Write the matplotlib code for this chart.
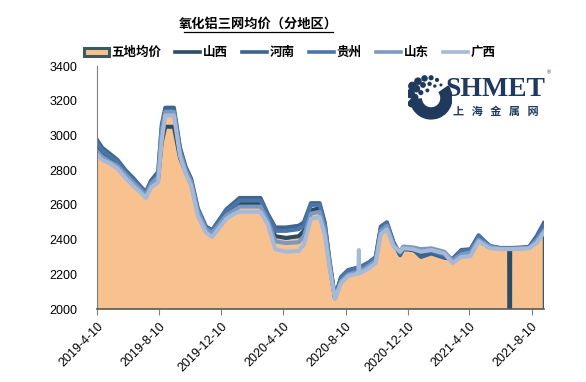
import numpy as np
import pandas as pd
import matplotlib
matplotlib.use("Agg")
import matplotlib.pyplot as plt
from matplotlib.patches import Patch, Wedge
from matplotlib.lines import Line2D

plt.rcParams["font.family"] = ["Liberation Sans", "Noto Sans CJK SC"]

dates = [
    "2019-04-10", "2019-04-20", "2019-05-05", "2019-05-20", "2019-06-05", "2019-06-20",
    "2019-07-05", "2019-07-15", "2019-07-25", "2019-08-08", "2019-08-15", "2019-08-22",
    "2019-09-08", "2019-09-20", "2019-10-01", "2019-10-12", "2019-10-25", "2019-11-10",
    "2019-11-22", "2019-12-05", "2019-12-20", "2020-01-05", "2020-01-15", "2020-02-25",
    "2020-03-10", "2020-03-25", "2020-04-15", "2020-05-10", "2020-05-20", "2020-06-03",
    "2020-06-20", "2020-06-30", "2020-07-10", "2020-07-20", "2020-08-01", "2020-08-15",
    "2020-09-04", "2020-09-05", "2020-09-06", "2020-09-25", "2020-10-08", "2020-10-18",
    "2020-10-30", "2020-11-12", "2020-11-25", "2020-12-01", "2020-12-20", "2021-01-05",
    "2021-01-25", "2021-02-20", "2021-03-08", "2021-03-25", "2021-04-12", "2021-04-28",
    "2021-05-20", "2021-06-10", "2021-06-27", "2021-06-28", "2021-06-29", "2021-07-20",
    "2021-08-05", "2021-08-20", "2021-09-03",
]

avg5 = [2930, 2895, 2865, 2835, 2780, 2735, 2690, 2660, 2720, 2760, 3010, 3120,
        3120, 2900, 2800, 2730, 2560, 2460, 2440, 2490, 2550, 2585, 2605, 2605,
        2520, 2420, 2405, 2415, 2445, 2565, 2575, 2470, 2250, 2065, 2170, 2210,
        2225, 2225, 2225, 2255, 2285, 2455, 2485, 2375, 2320, 2350, 2345, 2325,
        2335, 2310, 2280, 2320, 2330, 2410, 2360, 2350, 2350, 2350, 2350, 2352,
        2355, 2400, 2460]
shanxi = [2930, 2890, 2860, 2830, 2780, 2735, 2690, 2660, 2710, 2750, 2960, 3050,
          3050, 2870, 2790, 2720, 2555, 2455, 2440, 2490, 2550, 2590, 2610, 2610,
          2510, 2420, 2410, 2420, 2450, 2570, 2580, 2470, 2250, 2065, 2175, 2215,
          2230, 2230, 2230, 2260, 2290, 2460, 2490, 2380, 2315, 2345, 2340, 2320,
          2330, 2300, 2285, 2330, 2340, 2415, 2355, 2350, 2350, 0, 2350, 2352,
          2355, 2405, 2470]
henan = [2975, 2930, 2895, 2860, 2800, 2755, 2705, 2675, 2740, 2790, 3060, 3160,
         3160, 2930, 2820, 2750, 2580, 2475, 2455, 2510, 2575, 2615, 2640, 2640,
         2550, 2470, 2470, 2480, 2500, 2610, 2610, 2500, 2270, 2070, 2185, 2225,
         2240, 2240, 2240, 2270, 2300, 2475, 2500, 2385, 2310, 2350, 2345, 2300,
         2320, 2295, 2290, 2340, 2345, 2425, 2360, 2352, 2352, 2352, 2352, 2354,
         2358, 2420, 2495]
guizhou = [2955, 2915, 2880, 2850, 2790, 2745, 2700, 2670, 2730, 2770, 3040, 3140,
           3140, 2920, 2810, 2740, 2570, 2470, 2450, 2500, 2565, 2600, 2625, 2625,
           2540, 2450, 2450, 2460, 2480, 2600, 2600, 2490, 2260, 2065, 2180, 2220,
           2235, 2235, 2235, 2265, 2295, 2465, 2495, 2380, 2320, 2355, 2350, 2330,
           2335, 2310, 2285, 2335, 2340, 2420, 2365, 2350, 2350, 2350, 2350, 2352,
           2356, 2410, 2480]
shandong = [2910, 2880, 2850, 2825, 2775, 2730, 2685, 2655, 2720, 2760, 3020, 3135,
            3135, 2900, 2800, 2730, 2560, 2460, 2440, 2485, 2540, 2570, 2590, 2590,
            2510, 2390, 2380, 2385, 2420, 2550, 2560, 2460, 2245, 2060, 2160, 2200,
            2215, 2215, 2215, 2250, 2280, 2450, 2480, 2370, 2330, 2360, 2355, 2345,
            2350, 2330, 2280, 2315, 2325, 2400, 2360, 2348, 2348, 2348, 2348, 2350,
            2352, 2395, 2450]
guangxi = [2890, 2860, 2840, 2810, 2755, 2710, 2670, 2640, 2700, 2730, 2970, 3115,
           3115, 2880, 2780, 2710, 2535, 2440, 2415, 2465, 2520, 2550, 2560, 2560,
           2490, 2345, 2330, 2335, 2370, 2520, 2530, 2430, 2230, 2060, 2150, 2190,
           2205, 2340, 2205, 2235, 2265, 2430, 2460, 2360, 2330, 2350, 2345, 2330,
           2340, 2320, 2265, 2300, 2305, 2390, 2350, 2345, 2345, 2345, 2345, 2347,
           2350, 2380, 2440]

tick_dates = ["2019-04-10", "2019-08-10", "2019-12-10", "2020-04-10",
              "2020-08-10", "2020-12-10", "2021-04-10", "2021-08-10"]
tick_labels = ["2019-4-10", "2019-8-10", "2019-12-10", "2020-4-10",
               "2020-8-10", "2020-12-10", "2021-4-10", "2021-8-10"]
y_ticks = [2000, 2200, 2400, 2600, 2800, 3000, 3200, 3400]

names = ["山西", "河南", "贵州", "山东", "广西"]
colors = ["#2c4c63", "#3d6590", "#4a75a8", "#7b98c1", "#a6b9d8"]

x = pd.to_datetime(dates)

fig = plt.figure(figsize=(5.86, 3.82), dpi=100)
ax = fig.add_axes([0.1655, 0.191, 0.7625, 0.6362])

ax.fill_between(x, avg5, 0, facecolor="#f8c190", edgecolor="#3a5a5f", linewidth=1.5)
for vals, c, n in zip([shanxi, henan, guizhou, shandong, guangxi], colors, names):
    ax.plot(x, vals, color=c, linewidth=2.9, label=n, solid_joinstyle="round")

ax.set_ylim(2000, 3400)
ax.set_xlim(pd.Timestamp("2019-04-10"), pd.Timestamp("2021-09-03"))
ax.set_yticks(y_ticks)
ax.set_xticks(pd.to_datetime(tick_dates))
ax.set_xticklabels(tick_labels, rotation=45, ha="right", rotation_mode="anchor")
ax.tick_params(axis="y", length=0, pad=14, labelsize=9)
ax.tick_params(axis="x", length=4, width=0.8, color="#808080", pad=4, labelsize=9)
for s in ["top", "right"]:
    ax.spines[s].set_visible(False)
ax.spines["left"].set_color("#7f7f7f")
ax.spines["bottom"].set_color("#595959")
ax.spines["bottom"].set_linewidth(1.2)

# title with underline
fig.text(0.44, 1 - 24 / 382, "氧化铝三网均价（分地区）", ha="center", va="center",
         fontsize=9.5, fontweight="bold")
fig.add_artist(Line2D([184 / 586, 333 / 586], [1 - 32 / 382, 1 - 32 / 382],
                      color="black", linewidth=0.9))

handles = [Patch(facecolor="#f8c190", edgecolor="#3a5a5f", linewidth=2.2, label="五地均价")]
handles += [Line2D([], [], color=c, linewidth=2.6, label=n) for c, n in zip(colors, names)]
fig.legend(handles=handles, loc="center", bbox_to_anchor=(0.494, 1 - 53 / 382), ncol=6,
           frameon=False, prop={"weight": "bold", "size": 9}, handlelength=2.0,
           handleheight=0.6, handletextpad=0.2, columnspacing=1.15)

# logo
fig.text(495 / 586, 1 - 89 / 382, "SHMET", ha="center", va="center", fontsize=20,
         fontweight="bold", family="Liberation Serif", color="#1f3a5c")
fig.text(549 / 586, 1 - 73 / 382, "®", ha="center", va="center", fontsize=4,
         color="#1f3a5c")
fig.text(496 / 586, 1 - 111 / 382, "上   海   金   属   网", ha="center", va="center",
         fontsize=8, fontweight="bold", family="Noto Sans CJK SC", color="#1f3a5c")
lax = fig.add_axes([408 / 586, 1 - 120 / 382, 44 / 586, 46 / 382])
lax.set_xlim(-1, 1)
lax.set_ylim(-1.05, 1.05)
lax.set_aspect("equal")
lax.axis("off")
lax.add_patch(Wedge((0.05, -0.05), 0.95, 185, 35, width=0.5, color="#1f3a5c"))
dot_x = [-0.8, -0.55, -0.25, 0.05, 0.32, -0.9, -0.62, -0.32, -0.02, 0.22,
         -0.7, -0.42, -0.12, -0.85, 0.5]
dot_y = [0.5, 0.72, 0.85, 0.88, 0.78, 0.15, 0.38, 0.55, 0.6, 0.5,
         -0.02, 0.2, 0.3, -0.3, 0.55]
dot_s = [40, 30, 22, 14, 9, 45, 30, 18, 10, 6, 30, 14, 8, 30, 5]
lax.scatter(dot_x, dot_y, s=dot_s, color="#1f3a5c", linewidths=0)

fig.savefig("out.png", dpi=100)
